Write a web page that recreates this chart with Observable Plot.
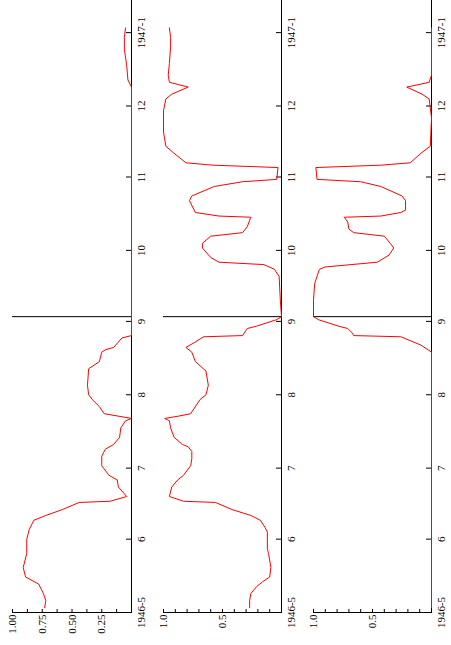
<!DOCTYPE html>
<html><head><meta charset="utf-8">
<script src="https://cdn.jsdelivr.net/npm/d3@7"></script>
<script src="https://cdn.jsdelivr.net/npm/@observablehq/plot@0.6"></script>
<style>
html,body{margin:0;padding:0;background:#fff;overflow:hidden;}
#wrap{position:absolute;left:0;top:0;width:645px;height:451px;transform-origin:0 0;transform:translate(0,645px) rotate(-90deg);background:#fff;}
#wrap svg{display:block;}
</style></head><body><div id="wrap"></div>
<script>
// Series 1 (top panel)
const s1Dates = ["1946-05-03","1946-05-06","1946-05-09","1946-05-13","1946-05-16","1946-05-20","1946-05-26","1946-06-01","1946-06-05","1946-06-09","1946-06-11","1946-06-13T12:00Z","1946-06-16T12:00Z","1946-06-17","1946-06-19","1946-06-23","1946-06-26","1946-06-28","1946-07-02","1946-07-06","1946-07-09","1946-07-11","1946-07-14","1946-07-18","1946-07-21","1946-07-22","1946-07-24","1946-07-27","1946-07-30","1946-08-01","1946-08-05","1946-08-12","1946-08-15","1946-08-19","1946-08-20","1946-08-21","1946-08-25","1946-08-26","1946-12-09","1946-12-12","1946-12-18","1946-12-25","1946-12-30","1947-01-03"];
const s1Values = [0.73,0.72,0.74,0.78,0.89,0.91,0.88,0.88,0.86,0.82,0.72,0.58,0.44,0.18,0.04,0.11,0.12,0.19,0.25,0.25,0.22,0.15,0.10,0.09,0.05,0.0,0.23,0.27,0.33,0.36,0.37,0.36,0.27,0.25,0.22,0.15,0.08,0.0,0.0,0.03,0.04,0.06,0.06,0.05];

// Series 2 (middle panel)
const s2Dates = ["1946-05-03","1946-05-06","1946-05-09","1946-05-12","1946-05-14","1946-05-16","1946-05-20","1946-05-26","1946-05-28","1946-06-04","1946-06-06","1946-06-09","1946-06-11","1946-06-13T12:00Z","1946-06-16T12:00Z","1946-06-17","1946-06-19","1946-06-23","1946-06-26","1946-06-28","1946-07-02","1946-07-05","1946-07-08","1946-07-10","1946-07-11","1946-07-14","1946-07-18","1946-07-21","1946-07-22","1946-07-23","1946-07-24","1946-07-30","1946-08-01","1946-08-05","1946-08-11","1946-08-15","1946-08-19","1946-08-21","1946-08-23","1946-08-25T12:00Z","1946-08-26","1946-08-29","1946-08-30","1946-09-01T18:00Z","1946-09-03","1946-09-10","1946-09-20","1946-09-23","1946-09-25","1946-09-26","1946-09-28","1946-10-02","1946-10-04","1946-10-07","1946-10-08T12:00Z","1946-10-11","1946-10-15","1946-10-15T12:00Z","1946-10-17","1946-10-22","1946-10-24","1946-10-28","1946-10-30","1946-10-31","1946-11-05","1946-11-06","1946-11-07","1946-11-11","1946-11-14","1946-11-20","1946-11-29","1946-12-04","1946-12-06","1946-12-09","1946-12-11","1946-12-14","1946-12-19","1946-12-26","1946-12-30","1947-01-03"];
const s2Values = [0.27,0.27,0.26,0.21,0.16,0.10,0.09,0.11,0.12,0.12,0.14,0.18,0.26,0.42,0.56,0.83,0.95,0.93,0.88,0.83,0.77,0.76,0.76,0.79,0.84,0.91,0.94,0.95,0.99,0.87,0.77,0.69,0.64,0.62,0.64,0.73,0.76,0.81,0.74,0.66,0.33,0.29,0.21,0.04,0.0,0.01,0.02,0.06,0.15,0.53,0.60,0.67,0.67,0.60,0.33,0.29,0.26,0.53,0.73,0.78,0.76,0.57,0.33,0.04,0.03,0.58,0.81,0.91,0.98,1.0,1.0,0.98,0.93,0.79,0.95,0.96,0.95,0.94,0.94,0.95];

// Series 3 (bottom panel)
const s3Dates = ["1946-05-03","1946-08-19","1946-08-22","1946-08-25T12:00Z","1946-08-26","1946-08-27","1946-08-29","1946-08-30","1946-09-01T18:00Z","1946-09-03","1946-09-10","1946-09-17","1946-09-23","1946-09-24","1946-09-26","1946-09-29","1946-10-02","1946-10-04","1946-10-07","1946-10-08T12:00Z","1946-10-10","1946-10-13","1946-10-15","1946-10-15T12:00Z","1946-10-17","1946-10-18","1946-10-22","1946-10-24","1946-10-28","1946-10-30","1946-10-31","1946-11-05","1946-11-06","1946-11-07","1946-11-11","1946-11-14","1946-11-26","1946-12-04","1946-12-06","1946-12-09","1946-12-11","1946-12-14","1947-01-03"];
const s3Values = [0.0,0.0,0.09,0.26,0.66,0.67,0.71,0.79,0.96,1.0,1.0,0.99,0.95,0.90,0.46,0.36,0.32,0.35,0.40,0.66,0.70,0.71,0.74,0.43,0.26,0.22,0.22,0.25,0.43,0.60,0.97,0.98,0.43,0.18,0.09,0.01,0.0,0.02,0.08,0.21,0.02,0.0,0.0];

// Axes
const monthTicks = ["1946-05-01","1946-06-01","1946-07-01","1946-08-01","1946-09-01","1946-10-01","1946-11-01","1946-12-01","1947-01-01"];
const monthLabels = ["1946-5","6","7","8","9","10","11","12","1947-1"];
const xDomain = ["1946-05-01","1947-01-15"];
const markerDate = "1946-09-03";
const minorTicksA = [0,0.125,0.25,0.375,0.5,0.625,0.75,0.875,1];
const labelTicksA = [0.25,0.5,0.75,1];
const minorTicksB = [0,0.1,0.2,0.3,0.4,0.5,0.6,0.7,0.8,0.9,1];
const labelTicksB = [0.5,1];

const tickDates = monthTicks.map(d => new Date(d));
const labelMap = new Map(tickDates.map((d, i) => [+d, monthLabels[i]]));

const panels = [
  {dates: s1Dates, values: s1Values, minor: minorTicksA, major: labelTicksA, fmt: d3.format(".2f"), top: 12},
  {dates: s2Dates, values: s2Values, minor: minorTicksB, major: labelTicksB, fmt: d3.format(".1f"), top: 13},
  {dates: s3Dates, values: s3Values, minor: minorTicksB, major: labelTicksB, fmt: d3.format(".1f"), top: 13}
];

const wrap = document.getElementById("wrap");
const x0 = new Date(xDomain[0]);
for (const p of panels) {
  const data = p.dates.map((d, i) => ({date: new Date(d), value: p.values[i]}));
  const chart = Plot.plot({
    width: 645,
    height: 150,
    marginLeft: 32,
    marginRight: 0,
    marginTop: p.top,
    marginBottom: 19,
    x: {type: "utc", domain: xDomain.map(d => new Date(d)), label: null},
    y: {domain: [0, 1], label: null},
    style: {fontFamily: "'Liberation Serif', 'Times New Roman', serif", fontSize: "11px", color: "black", background: "white"},
    marks: [
      Plot.ruleY([0], {stroke: "black", strokeWidth: 1}),
      Plot.ruleX([x0], {y1: 0, y2: 1, stroke: "black", strokeWidth: 1}),
      Plot.ruleX([new Date(markerDate)], {y1: 0, y2: 1, stroke: "black", strokeWidth: 1}),
      Plot.axisY(p.minor, {anchor: "left", tickSize: 4, dx: 4, tickFormat: () => "", label: null, stroke: "black"}),
      Plot.axisY(p.major, {anchor: "left", tickSize: 0, tickPadding: 2, tickFormat: p.fmt, label: null, fill: "black"}),
      Plot.axisX(tickDates, {anchor: "bottom", tickSize: 5, dy: -5, tickFormat: () => "", label: null, stroke: "black"}),
      Plot.axisX(tickDates, {anchor: "bottom", tickSize: 0, tickPadding: 6, tickFormat: d => labelMap.get(+d), label: null, fill: "black"}),
      Plot.line(data, {x: "date", y: "value", stroke: "red", strokeWidth: 1})
    ]
  });
  wrap.appendChild(chart);
}
</script>
</body></html>
